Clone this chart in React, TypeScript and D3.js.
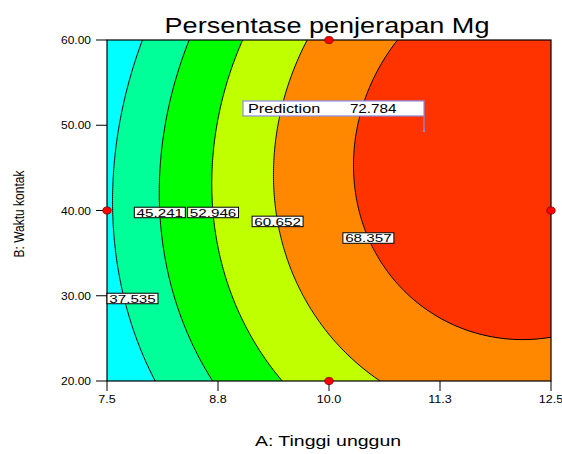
import * as d3 from "d3";

const W = 562, H = 454;
const M = { left: 107, right: 551, top: 40, bottom: 381 };

// contour levels and fill for each band (lowest band first)
const levels = [37.535, 45.241, 52.946, 60.652, 68.357];
const bandColors = ["#00ffff", "#00ff99", "#00ff00", "#c0ff00", "#ff8800", "#ff3300"];

const xTicks = [7.5, 8.75, 10, 11.25, 12.5];
const xTickLabels = ["7.5", "8.8", "10.0", "11.3", "12.5"];
const yTicks = [20, 30, 40, 50, 60];
const yTickLabels = ["20.00", "30.00", "40.00", "50.00", "60.00"];

// design points (A: Tinggi unggun, B: Waktu kontak)
const designA = [7.5, 10, 10, 12.5];
const designB = [40, 60, 20, 40];

// response model in coded units a=(A-10)/2.5, b=(B-40)/20
// terms: 1, a, b, a², ab, b², a³, a²b, ab², b³
const modelCoef = [65.9106, 19.5192, 2.9763, -10.2919, 1.7829, -5.9378, -0.4561, -0.6353, -0.0424, -0.1016];

// B value at which each contour label sits
const labelB = [29.65, 39.74, 39.74, 38.69, 36.74];

const predA = 11.07, predB = 49.33, predValue = 72.784;

const terms = (a: number, b: number) => [1, a, b, a * a, a * b, b * b, a * a * a, a * a * b, a * b * b, b * b * b];

const response = (A: number, B: number) => {
  const t = terms((A - 10) / 2.5, (B - 40) / 20);
  return t.reduce((s, q, i) => s + q * modelCoef[i], 0);
};

function SText({ x, y, sx = 1, size, anchor = "start", rotate = 0, fill = "#000", children }: any) {
  return (
    <text
      transform={`translate(${x},${y}) scale(${sx},1)${rotate ? ` rotate(${rotate})` : ""}`}
      textAnchor={anchor}
      fontSize={size}
      fontFamily="'Liberation Sans', Arial, sans-serif"
      fill={fill}
    >
      {children}
    </text>
  );
}

export default function App() {
  const x = d3.scaleLinear().domain([7.5, 12.5]).range([M.left, M.right]);
  const y = d3.scaleLinear().domain([20, 60]).range([M.bottom, M.top]);

  const nx = 223, ny = 171;
  const vals: number[] = new Array(nx * ny);
  for (let j = 0; j < ny; j++) {
    const B = y.invert(M.top + (j * (M.bottom - M.top)) / (ny - 1));
    for (let i = 0; i < nx; i++) {
      const A = x.invert(M.left + (i * (M.right - M.left)) / (nx - 1));
      vals[j * nx + i] = response(A, B);
    }
  }
  const contours = d3.contours().size([nx, ny]).thresholds(levels)(vals);
  const cx = (M.right - M.left) / (nx - 1), cy = (M.bottom - M.top) / (ny - 1);
  const path = d3.geoPath(
    d3.geoTransform({
      point(px: number, py: number) {
        (this as any).stream.point(M.left + (px - 0.5) * cx, M.top + (py - 0.5) * cy);
      },
    })
  );

  // label sits where its contour crosses labelB, kept inside the plot
  const labels = levels.map((lv, k) => {
    let lo = 7.5, hi = 12.5;
    for (let it = 0; it < 40; it++) {
      const mid = (lo + hi) / 2;
      if (response(mid, labelB[k]) < lv) lo = mid; else hi = mid;
    }
    const w = 51;
    let px = x(lo);
    if (px - w / 2 < M.left) px = M.left + w / 2;
    return { lv, px, py: y(labelB[k]), w };
  });

  const ppx = x(predA), ppy = y(predB);

  return (
    <svg width={W} height={H} style={{ position: "absolute", left: 0, top: 0 }}>
      <defs>
        <clipPath id="plot">
          <rect x={M.left} y={M.top} width={M.right - M.left} height={M.bottom - M.top} />
        </clipPath>
      </defs>
      <SText x={327} y={33} size={22} sx={1.23} anchor="middle">Persentase penjerapan Mg</SText>

      <g clipPath="url(#plot)">
        <rect x={M.left} y={M.top} width={M.right - M.left} height={M.bottom - M.top} fill={bandColors[0]} />
        {contours.map((c, i) => (
          <path key={i} d={path(c as any) || ""} fill={bandColors[i + 1]} stroke="#000" strokeWidth={1} />
        ))}
      </g>
      <rect x={M.left} y={M.top} width={M.right - M.left} height={M.bottom - M.top} fill="none" stroke="#000" strokeWidth={1.2} />

      {yTicks.map((t, i) => (
        <g key={t}>
          <line x1={M.left - 11} x2={M.left} y1={y(t)} y2={y(t)} stroke="#000" />
          <SText x={91} y={y(t) + 4} size={11} sx={1.09} anchor="end">{yTickLabels[i]}</SText>
        </g>
      ))}
      {xTicks.map((t, i) => (
        <g key={t}>
          <line x1={x(t)} x2={x(t)} y1={M.bottom} y2={M.bottom + 10} stroke="#000" />
          <SText x={x(t)} y={402.5} size={11} sx={1.14} anchor="middle">{xTickLabels[i]}</SText>
        </g>
      ))}

      {labels.map((l) => (
        <g key={l.lv}>
          <rect x={l.px - l.w / 2} y={l.py - 5.5} width={l.w} height={10.5} fill="#fff" stroke="#000" strokeWidth={1} />
          <SText x={l.px} y={l.py + 4} size={10.5} sx={1.45} anchor="middle">{l.lv.toFixed(3)}</SText>
        </g>
      ))}

      {designA.map((a, i) => (
        <ellipse key={i} cx={x(a)} cy={y(designB[i])} rx={4.2} ry={3.6} fill="#ff0000" stroke="#700" strokeWidth={0.8} />
      ))}

      <g>
        <line x1={ppx} x2={ppx} y1={ppy - 15} y2={ppy} stroke="#8c8ce6" strokeWidth={1.2} />
        <rect x={ppx - 1} y={ppy - 1} width={2} height={2} fill="#8c8ce6" />
        <rect x={ppx - 181} y={ppy - 30} width={181} height={15} fill="#fff" stroke="#8c8ce6" strokeWidth={1.2} />
        <SText x={ppx - 176} y={ppy - 17.5} size={12.5} sx={1.3} anchor="start">Prediction</SText>
        <SText x={ppx - 27.5} y={ppy - 17.5} size={12.5} sx={1.22} anchor="end">{predValue.toFixed(3)}</SText>
      </g>

      <SText x={328} y={446} size={15} sx={1.3} anchor="middle">A:  Tinggi unggun</SText>
      <SText x={24} y={214} size={12} sx={1.2} rotate={-90} anchor="middle">B: Waktu kontak</SText>
    </svg>
  );
}
